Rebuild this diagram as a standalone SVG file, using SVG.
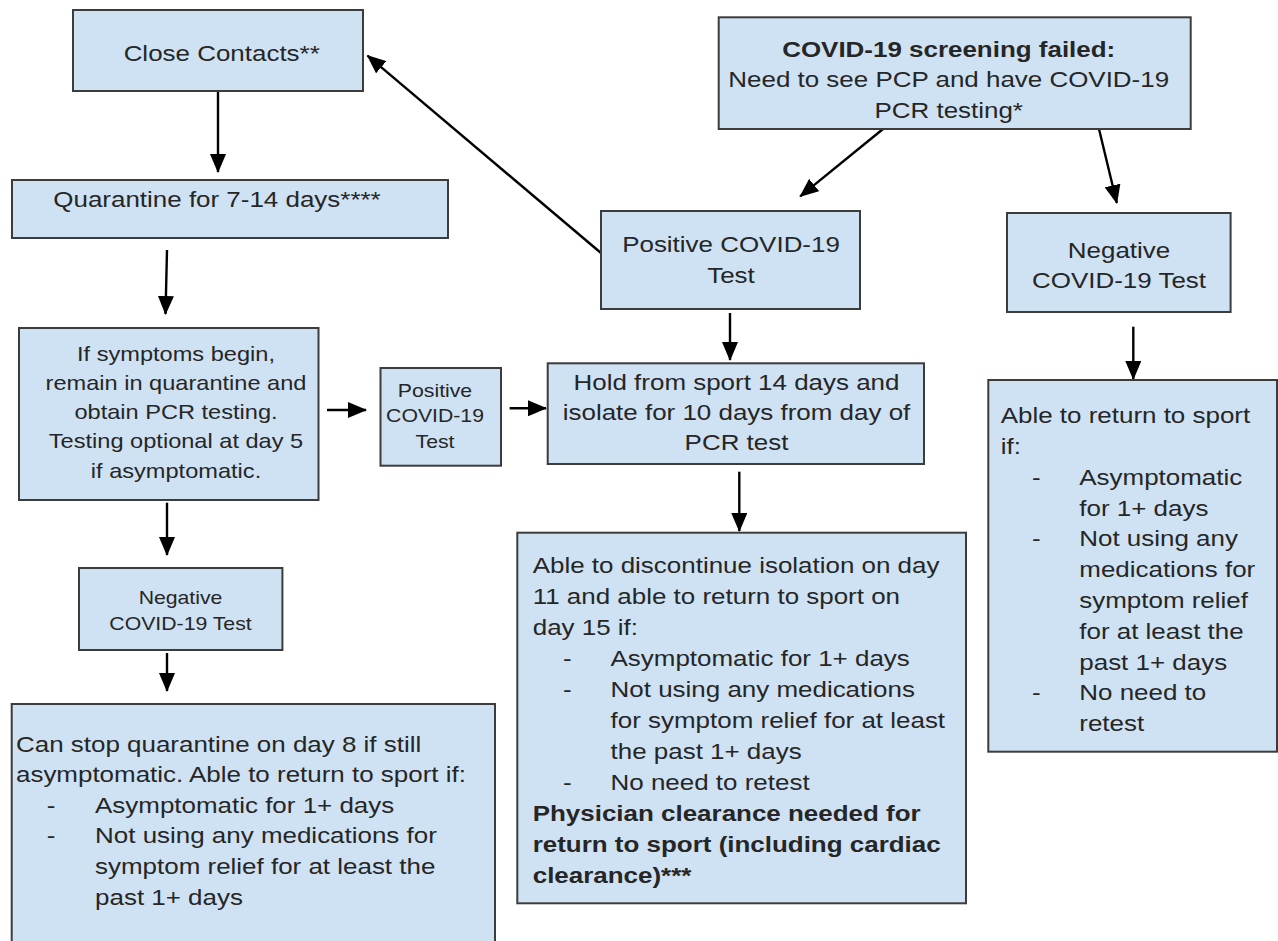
<svg xmlns="http://www.w3.org/2000/svg" width="1278" height="941" viewBox="0 0 1278 941">
<defs>
<marker id="ah" markerUnits="userSpaceOnUse" markerWidth="19" markerHeight="16" refX="18" refY="8" orient="auto">
<path d="M0,0 L19,8 L0,16 z" fill="#000"/>
</marker>
<style>
.box{fill:#cfe2f3;stroke:#3c3c3c;stroke-width:2}
.t{font-family:"Liberation Sans",Arial,sans-serif;font-size:22px;fill:#262626}
.s{font-size:18px}
.m{font-size:20px}
.b{font-weight:bold}
.c{text-anchor:middle}
#connectors line{stroke:#000;stroke-width:2.4;marker-end:url(#ah)}
</style>
</defs>
<rect width="1278" height="941" fill="#fff"/>

<g id="connectors">
<line x1="218" y1="92" x2="218" y2="172"/>
<line x1="167" y1="250" x2="165.5" y2="314"/>
<line x1="327" y1="410" x2="366" y2="410"/>
<line x1="509.6" y1="408.3" x2="546" y2="408.3"/>
<line x1="167" y1="502.7" x2="167" y2="555"/>
<line x1="167" y1="653" x2="167" y2="691"/>
<line x1="883" y1="129" x2="800.2" y2="196.4"/>
<line x1="1099" y1="129" x2="1116.8" y2="203"/>
<line x1="601" y1="253" x2="367.5" y2="55.6"/>
<line x1="730" y1="313" x2="730" y2="360"/>
<line x1="739.3" y1="471.7" x2="739.3" y2="531"/>
<line x1="1133.3" y1="326.7" x2="1133.3" y2="379"/>
</g>

<g id="close-contacts">
<rect class="box" x="73" y="10" width="290" height="81"/>
<text class="t c" transform="translate(221.7,61) scale(1.18,1)">Close Contacts**</text>
</g>

<g id="quarantine">
<rect class="box" x="12" y="180" width="436" height="58"/>
<text class="t c" transform="translate(217,207) scale(1.18,1)">Quarantine for 7-14 days****</text>
</g>

<g id="screening-failed">
<rect class="box" x="718.7" y="17.3" width="472" height="111.7"/>
<text class="t c" transform="translate(948.7,57) scale(1.18,1)"><tspan x="0" y="0" class="b">COVID-19 screening failed:</tspan><tspan x="0" y="30.5">Need to see PCP and have COVID-19</tspan><tspan x="0" y="61">PCR testing*</tspan></text>
</g>

<g id="positive-main">
<rect class="box" x="601" y="211" width="259" height="98"/>
<text class="t c" transform="translate(731,252) scale(1.18,1)"><tspan x="0" y="0">Positive COVID-19</tspan><tspan x="0" y="31">Test</tspan></text>
</g>

<g id="negative-main">
<rect class="box" x="1007" y="213" width="223.6" height="99"/>
<text class="t c" transform="translate(1119,258) scale(1.18,1)"><tspan x="0" y="0">Negative</tspan><tspan x="0" y="30.3">COVID-19 Test</tspan></text>
</g>

<g id="symptoms-begin">
<rect class="box" x="19" y="328" width="299.5" height="172"/>
<text class="t m c" transform="translate(176,360.5) scale(1.18,1)"><tspan x="0" y="0">If symptoms begin,</tspan><tspan x="0" y="29.3">remain in quarantine and</tspan><tspan x="0" y="58.6">obtain PCR testing.</tspan><tspan x="0" y="87.9">Testing optional at day 5</tspan><tspan x="0" y="117.2">if asymptomatic.</tspan></text>
</g>

<g id="positive-quarantine">
<rect class="box" x="380.5" y="368" width="120.5" height="97.7"/>
<text class="t s c" transform="translate(435,397) scale(1.18,1)"><tspan x="0" y="0">Positive</tspan><tspan x="0" y="25.3">COVID-19</tspan><tspan x="0" y="50.6">Test</tspan></text>
</g>

<g id="hold-from-sport">
<rect class="box" x="547.7" y="363.3" width="376.3" height="100.7"/>
<text class="t c" transform="translate(736.5,389.5) scale(1.18,1)"><tspan x="0" y="0">Hold from sport 14 days and</tspan><tspan x="0" y="30.1">isolate for 10 days from day of</tspan><tspan x="0" y="60.2">PCR test</tspan></text>
</g>

<g id="negative-quarantine">
<rect class="box" x="79" y="568" width="203.4" height="82"/>
<text class="t s c" transform="translate(180.5,604) scale(1.18,1)"><tspan x="0" y="0">Negative</tspan><tspan x="0" y="26">COVID-19 Test</tspan></text>
</g>

<g id="stop-quarantine">
<rect class="box" x="11.7" y="704" width="483.3" height="250"/>
<text class="t" transform="translate(16,751.7) scale(1.18,1)"><tspan x="0" y="0">Can stop quarantine on day 8 if still</tspan><tspan x="0" y="30.6">asymptomatic. Able to return to sport if:</tspan><tspan x="26" y="61.2">-</tspan><tspan x="67" y="61.2">Asymptomatic for 1+ days</tspan><tspan x="26" y="91.8">-</tspan><tspan x="67" y="91.8">Not using any medications for</tspan><tspan x="67" y="122.4">symptom relief for at least the</tspan><tspan x="67" y="153">past 1+ days</tspan></text>
</g>

<g id="discontinue-isolation">
<rect class="box" x="517.3" y="532.7" width="448.7" height="370.6"/>
<text class="t" transform="translate(532.7,573) scale(1.18,1)"><tspan x="0" y="0">Able to discontinue isolation on day</tspan><tspan x="0" y="31">11 and able to return to sport on</tspan><tspan x="0" y="62">day 15 if:</tspan><tspan x="25.7" y="93">-</tspan><tspan x="66" y="93">Asymptomatic for 1+ days</tspan><tspan x="25.7" y="124">-</tspan><tspan x="66" y="124">Not using any medications</tspan><tspan x="66" y="155">for symptom relief for at least</tspan><tspan x="66" y="186">the past 1+ days</tspan><tspan x="25.7" y="217">-</tspan><tspan x="66" y="217">No need to retest</tspan><tspan x="0" y="248" class="b">Physician clearance needed for</tspan><tspan x="0" y="279" class="b">return to sport (including cardiac</tspan><tspan x="0" y="310" class="b">clearance)***</tspan></text>
</g>

<g id="return-negative">
<rect class="box" x="988.3" y="380" width="288.7" height="371.7"/>
<text class="t" transform="translate(1000.7,423.3) scale(1.18,1)"><tspan x="0" y="0">Able to return to sport</tspan><tspan x="0" y="30.8">if:</tspan><tspan x="26.5" y="61.6">-</tspan><tspan x="66.6" y="61.6">Asymptomatic</tspan><tspan x="66.6" y="92.4">for 1+ days</tspan><tspan x="26.5" y="123.2">-</tspan><tspan x="66.6" y="123.2">Not using any</tspan><tspan x="66.6" y="154">medications for</tspan><tspan x="66.6" y="184.8">symptom relief</tspan><tspan x="66.6" y="215.6">for at least the</tspan><tspan x="66.6" y="246.4">past 1+ days</tspan><tspan x="26.5" y="277.2">-</tspan><tspan x="66.6" y="277.2">No need to</tspan><tspan x="66.6" y="308">retest</tspan></text>
</g>
</svg>
